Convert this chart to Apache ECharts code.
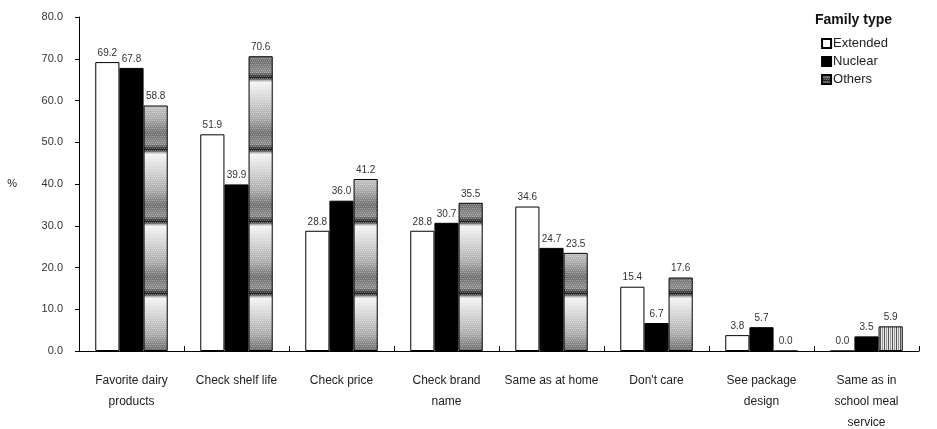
<!DOCTYPE html>
<html>
<head>
<meta charset="utf-8">
<script src="https://cdn.jsdelivr.net/npm/echarts@6/dist/echarts.min.js"></script>
<style>
  html, body { margin: 0; padding: 0; background: #fff; }
  #chart { width: 937px; height: 429px; }
</style>
</head>
<body>
<div id="chart"></div>
<script>
// Reasons for choosing dairy products, by family type (%)
const categories = [
  'Favorite dairy\nproducts',
  'Check shelf life',
  'Check price',
  'Check brand\nname',
  'Same as at home',
  "Don't care",
  'See package\ndesign',
  'Same as in\nschool meal\nservice'
];
const extended = [69.2, 51.9, 28.8, 28.8, 34.6, 15.4, 3.8, 0.0];
const nuclear  = [67.8, 39.9, 36.0, 30.7, 24.7, 6.7, 5.7, 3.5];
const others   = [58.8, 70.6, 41.2, 35.5, 23.5, 17.6, 0.0, 5.9];
const yTicks = [0, 10, 20, 30, 40, 50, 60, 70, 80];

// Banded grey fill used for the "Others" bars
function bandPattern() {
  const c = document.createElement('canvas');
  c.width = 24; c.height = 72;
  const ctx = c.getContext('2d');
  const g = ctx.createLinearGradient(0, 0, 0, 72);
  g.addColorStop(0.00, '#8a8a8a');
  g.addColorStop(0.08, '#1a1a1a');
  g.addColorStop(0.14, '#f4f4f4');
  g.addColorStop(0.40, '#d0d0d0');
  g.addColorStop(0.65, '#a8a8a8');
  g.addColorStop(0.85, '#6e6e6e');
  g.addColorStop(1.00, '#8a8a8a');
  ctx.fillStyle = g;
  ctx.fillRect(0, 0, 24, 72);
  // dither speckle
  for (let y = 0; y < 72; y += 2) {
    for (let x = (y / 2) % 2; x < 24; x += 2) {
      ctx.fillStyle = 'rgba(255,255,255,0.35)';
      ctx.fillRect(x, y, 1, 1);
    }
  }
  return c;
}

// Vertical stripe fill (used for the short "school meal" bar)
function stripePattern() {
  const c = document.createElement('canvas');
  c.width = 4; c.height = 4;
  const ctx = c.getContext('2d');
  ctx.fillStyle = '#e8e8e8';
  ctx.fillRect(0, 0, 4, 4);
  ctx.fillStyle = '#555';
  ctx.fillRect(0, 0, 1, 4);
  ctx.fillStyle = '#999';
  ctx.fillRect(2, 0, 1, 4);
  return c;
}

const band = { image: bandPattern(), repeat: 'repeat' };
const stripe = { image: stripePattern(), repeat: 'repeat' };

const chart = echarts.init(document.getElementById('chart'));
const labelStyle = {
  show: true,
  position: 'top',
  distance: 4,
  fontFamily: 'Liberation Sans',
  fontSize: 10,
  color: '#333',
  formatter: p => p.value.toFixed(1)
};

chart.setOption({
  animation: false,
  textStyle: { fontFamily: 'Liberation Sans' },
  title: {
    text: 'Family type',
    right: 40,
    top: 8,
    textStyle: { fontSize: 14, fontWeight: 'bold', color: '#111', fontFamily: 'Liberation Sans' }
  },
  legend: {
    orient: 'vertical',
    right: 44,
    top: 32,
    itemWidth: 9,
    itemHeight: 9,
    itemGap: 5,
    icon: 'rect',
    textStyle: { fontSize: 13, color: '#222', fontFamily: 'Liberation Sans', padding: [0, 0, 0, -3] },
    data: ['Extended', 'Nuclear', 'Others']
  },
  grid: { left: 79, right: 18, top: 17, bottom: 78, outerBoundsMode: 'none', containLabel: false },
  xAxis: {
    type: 'category',
    data: categories,
    axisLine: { lineStyle: { color: '#000', width: 1 } },
    axisTick: { show: true, inside: true, length: 5, lineStyle: { color: '#000' } },
    axisLabel: {
      interval: 0,
      margin: 19,
      fontSize: 12,
      lineHeight: 21,
      color: '#222',
      fontFamily: 'Liberation Sans'
    }
  },
  yAxis: {
    type: 'value',
    min: 0,
    max: 80,
    interval: 10,
    name: '%',
    nameLocation: 'middle',
    nameRotate: 0,
    nameGap: 62,
    nameTextStyle: { fontSize: 11, color: '#222' },
    axisLine: { show: true, lineStyle: { color: '#000', width: 1 } },
    axisTick: { show: true, length: 4, lineStyle: { color: '#000' } },
    splitLine: { show: false },
    axisLabel: {
      fontSize: 11,
      color: '#333',
      margin: 16,
      formatter: v => yTicks.includes(v) ? v.toFixed(1) : ''
    }
  },
  series: [
    {
      name: 'Extended',
      type: 'bar',
      data: extended,
      barGap: '0%',
      barCategoryGap: '31%',
      itemStyle: { color: '#fff', borderColor: '#000', borderWidth: 1 },
      label: labelStyle
    },
    {
      name: 'Nuclear',
      type: 'bar',
      data: nuclear,
      itemStyle: { color: '#000', borderColor: '#000', borderWidth: 1 },
      label: labelStyle
    },
    {
      name: 'Others',
      type: 'bar',
      data: others.map((v, i) => i === others.length - 1
        ? { value: v, itemStyle: { color: stripe } }
        : v),
      itemStyle: { color: band, borderColor: '#000', borderWidth: 1 },
      label: labelStyle
    }
  ]
});
</script>
</body>
</html>
